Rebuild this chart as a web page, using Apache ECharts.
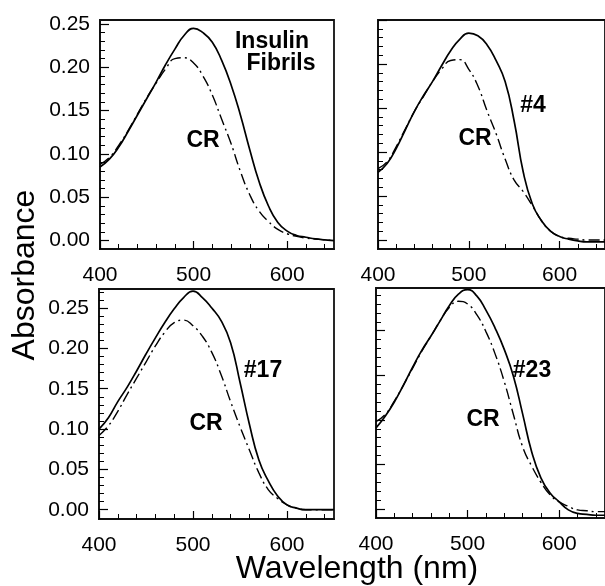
<!DOCTYPE html>
<html>
<head>
<meta charset="utf-8">
<script src="https://cdn.jsdelivr.net/npm/echarts@6/dist/echarts.min.js"></script>
<style>
  html, body { margin: 0; padding: 0; background: #fff; }
  #chart { width: 605px; height: 586px; }
</style>
</head>
<body>
<div id="chart"></div>
<script>
// wavelength grid (nm)
var wavelengths = [400, 410, 420, 430, 440, 450, 460, 470, 480, 490, 500, 510, 520,
                   530, 540, 550, 560, 570, 580, 590, 600, 610, 620, 630, 640, 650];

// panel 1: insulin fibrils
var fibrilsSolid = [0.085, 0.094, 0.108, 0.126, 0.145, 0.164, 0.183, 0.203, 0.221, 0.237, 0.245, 0.240, 0.229,
                    0.208, 0.180, 0.145, 0.105, 0.068, 0.040, 0.021, 0.011, 0.006, 0.004, 0.002, 0.001, 0.000];
var fibrilsCR    = [0.088, 0.096, 0.110, 0.127, 0.146, 0.165, 0.182, 0.198, 0.210, 0.211, 0.205, 0.190, 0.168,
                    0.140, 0.112, 0.080, 0.053, 0.034, 0.022, 0.013, 0.008, 0.005, 0.003, 0.002, 0.001, 0.000];
// panel 2: #4
var p4Solid = [0.077, 0.087, 0.104, 0.125, 0.146, 0.164, 0.180, 0.198, 0.215, 0.228, 0.235, 0.232, 0.222,
               0.204, 0.180, 0.135, 0.077, 0.041, 0.022, 0.010, 0.004, 0.001, -0.001, -0.002, -0.002, -0.002];
var p4CR    = [0.081, 0.089, 0.106, 0.126, 0.146, 0.163, 0.180, 0.194, 0.204, 0.205, 0.194, 0.175, 0.147,
               0.121, 0.092, 0.068, 0.055, 0.039, 0.022, 0.010, 0.004, 0.002, 0.001, 0.000, 0.000, 0.000];
// panel 3: #17
var p17Solid = [0.100, 0.114, 0.134, 0.152, 0.172, 0.193, 0.213, 0.232, 0.249, 0.263, 0.271, 0.263, 0.250,
                0.234, 0.207, 0.158, 0.106, 0.062, 0.036, 0.017, 0.006, 0.002, 0.000, 0.000, 0.000, 0.000];
var p17CR    = [0.092, 0.104, 0.122, 0.143, 0.163, 0.183, 0.203, 0.220, 0.232, 0.235, 0.228, 0.215, 0.195,
                0.167, 0.134, 0.103, 0.074, 0.046, 0.025, 0.014, 0.006, 0.002, 0.000, 0.000, 0.000, 0.000];
// panel 4: #23
var p23Solid = [0.091, 0.104, 0.120, 0.139, 0.159, 0.178, 0.194, 0.211, 0.228, 0.241, 0.246, 0.239, 0.223,
                0.203, 0.179, 0.149, 0.107, 0.064, 0.035, 0.018, 0.008, -0.001, -0.005, -0.006, -0.007, -0.007];
var p23CR    = [0.098, 0.106, 0.121, 0.139, 0.158, 0.177, 0.194, 0.211, 0.226, 0.233, 0.230, 0.218, 0.199,
                0.174, 0.143, 0.106, 0.070, 0.048, 0.030, 0.016, 0.008, 0.003, -0.001, -0.002, -0.003, -0.003];

// tick values
var xMajorTicks = [400, 500, 600];
var xMinorTicks = [420, 440, 460, 480, 520, 540, 560, 580, 620, 640];
var yMajorTicks = [0, 0.05, 0.10, 0.15, 0.20, 0.25];
var yMinorTicks = [0.01, 0.02, 0.03, 0.04, 0.06, 0.07, 0.08, 0.09, 0.11, 0.12, 0.13, 0.14,
                   0.16, 0.17, 0.18, 0.19, 0.21, 0.22, 0.23, 0.24, 0.26, 0.27];

var panels = [
    {solid: fibrilsSolid, cr: fibrilsCR, yMin: -0.0096, yMax: 0.2546, yLabels: true,
     grid: {left: 100, top: 20, width: 234, height: 229}},
    {solid: p4Solid, cr: p4CR, yMin: -0.0102, yMax: 0.2500, yLabels: false,
     grid: {left: 378, top: 20, width: 228, height: 229}},
    {solid: p17Solid, cr: p17CR, yMin: -0.0115, yMax: 0.2736, yLabels: true,
     grid: {left: 99, top: 289, width: 235, height: 230}},
    {solid: p23Solid, cr: p23CR, yMin: -0.0101, yMax: 0.2479, yLabels: false,
     grid: {left: 376, top: 288, width: 229, height: 230}}
];

var FONT = "'Liberation Sans', Arial, sans-serif";

function pairs(vals) {
    return wavelengths.map(function (w, i) { return [w, vals[i]]; });
}

var grids = [], xAxes = [], yAxes = [], series = [];

panels.forEach(function (p, i) {
    grids.push(Object.assign({show: true, borderColor: '#111', borderWidth: 1.8, backgroundColor: '#fff'}, p.grid));

    // major x axis
    xAxes.push({
        type: 'value', gridIndex: i, min: 400, max: 650, position: 'bottom',
        axisLine: {onZero: false, lineStyle: {color: '#111', width: 1.8}},
        axisTick: {inside: true, length: 8, customValues: xMajorTicks, lineStyle: {color: '#000', width: 1.2}},
        axisLabel: {customValues: xMajorTicks, margin: 16, color: '#000', fontSize: 21, fontFamily: FONT},
        splitLine: {show: false}
    });
    // minor x ticks
    xAxes.push({
        type: 'value', gridIndex: i, min: 400, max: 650, position: 'bottom',
        axisLine: {show: false, onZero: false},
        axisTick: {inside: true, length: 5, customValues: xMinorTicks, lineStyle: {color: '#000', width: 1}},
        axisLabel: {show: false},
        splitLine: {show: false}
    });
    // major y axis
    yAxes.push({
        type: 'value', gridIndex: i, min: p.yMin, max: p.yMax, position: 'left',
        axisLine: {show: true, onZero: false, lineStyle: {color: '#111', width: 1.8}},
        axisTick: {show: true, inside: true, length: 9, customValues: yMajorTicks, lineStyle: {color: '#000', width: 1.2}},
        axisLabel: {show: p.yLabels, customValues: yMajorTicks, margin: 10, color: '#000', fontSize: 21, fontFamily: FONT,
                    formatter: function (v) { return v.toFixed(2); }},
        splitLine: {show: false}
    });
    // minor y ticks
    yAxes.push({
        type: 'value', gridIndex: i, min: p.yMin, max: p.yMax, position: 'left',
        axisLine: {show: false, onZero: false},
        axisTick: {show: true, inside: true, length: 5, customValues: yMinorTicks, lineStyle: {color: '#000', width: 1}},
        axisLabel: {show: false},
        splitLine: {show: false}
    });

    series.push({
        type: 'line', xAxisIndex: 2 * i, yAxisIndex: 2 * i,
        data: pairs(p.solid), smooth: true, symbol: 'none',
        lineStyle: {color: '#000', width: 1.7}
    });
    series.push({
        type: 'line', xAxisIndex: 2 * i, yAxisIndex: 2 * i,
        data: pairs(p.cr), smooth: true, symbol: 'none',
        lineStyle: {color: '#000', width: 1.4, type: [11, 4, 2, 4]}
    });
});

function label(text, x, y, size, bold, rot) {
    return {
        type: 'text', x: x, y: y, rotation: rot || 0, z: 100,
        style: {
            text: text, fill: '#000', fontSize: size, fontFamily: FONT,
            fontWeight: bold ? 'bold' : 'normal',
            textAlign: 'center', textVerticalAlign: 'middle'
        }
    };
}

var myChart = echarts.init(document.getElementById('chart'), null, {renderer: 'canvas'});

myChart.setOption({
    backgroundColor: '#fff',
    animation: false,
    grid: grids,
    xAxis: xAxes,
    yAxis: yAxes,
    series: series,
    graphic: [
        label('Insulin', 272, 42, 23, true),
        label('Fibrils', 281, 64, 23, true),
        label('CR', 203, 141, 23, true),
        label('#4', 533, 106, 23, true),
        label('CR', 475, 139, 23, true),
        label('#17', 263, 371, 23, true),
        label('CR', 206, 424, 23, true),
        label('#23', 532, 371, 23, true),
        label('CR', 483, 420, 23, true),
        label('Absorbance', 25, 275, 32, false, Math.PI / 2),
        label('Wavelength (nm)', 357, 569, 32, false)
    ]
});
</script>
</body>
</html>
